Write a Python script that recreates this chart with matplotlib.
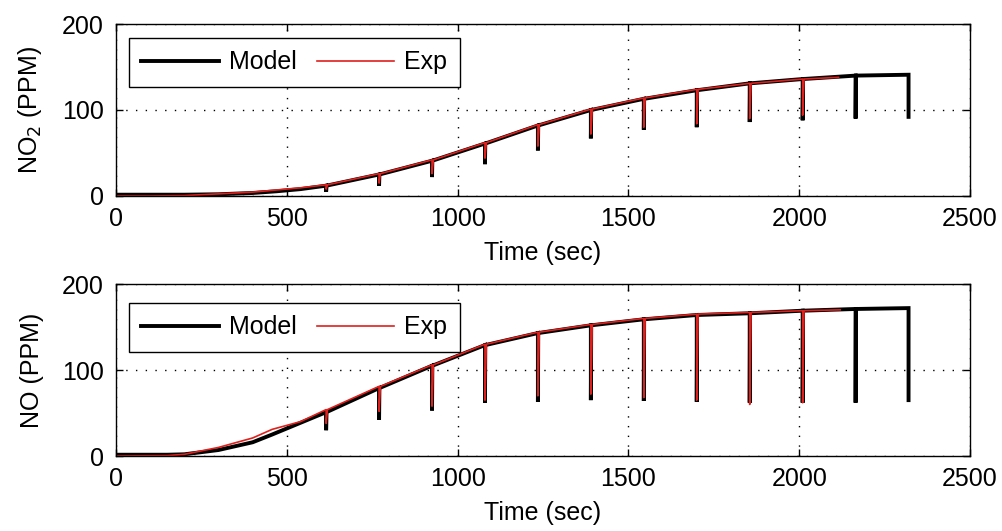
import numpy as np
import matplotlib
matplotlib.use('Agg')
import matplotlib.pyplot as plt

# dip (sampling) times, sec
t_dip = [615, 770, 925, 1080, 1235, 1390, 1545, 1700, 1855, 2010, 2165, 2320]

# NO2 model: smooth part before first dip, then value at each dip top / bottom
no2_mod_t0 = [0, 100, 200, 300, 400, 470, 540]
no2_mod_y0 = [1.5, 1.5, 1.5, 2, 3.5, 5.5, 8]
no2_mod_top = [12, 25, 41, 61, 82, 100, 113, 123, 131, 136, 140, 141]
no2_mod_bot = [5, 12, 22, 37, 53, 67, 77, 80, 86, 88, 90, 92]

no2_exp_t0 = [0, 100, 200, 300, 400, 470, 540]
no2_exp_y0 = [0, 0, 0.5, 2.5, 4.5, 7, 9.5]
no2_exp_top = [13, 26, 42, 62, 83, 101, 114, 124, 131, 136]
no2_exp_bot = [8, 15, 26, 44, 58, 72, 80, 84, 90, 94]
no2_exp_end = (2115, 138)

# NO model
no_mod_t0 = [0, 150, 200, 300, 400, 457]
no_mod_y0 = [1.5, 1.5, 2, 7, 16, 25]
no_mod_top = [51, 79, 105, 129, 143, 152, 159, 164, 166, 169, 171, 172]
no_mod_bot = [30, 42, 53, 62, 63, 65, 64, 63, 62, 62, 62, 65]

no_exp_t0 = [0, 150, 200, 300, 400, 457, 540]
no_exp_y0 = [0, 0.5, 2, 10, 21, 31, 40]
no_exp_top = [54, 81, 106, 130, 144, 153, 160, 165, 167, 169]
no_exp_bot = [38, 52, 58, 65, 70, 72, 68, 65, 60, 62]
no_exp_end = (2120, 170)


def build(t0, y0, tops, bots, end=None, w=1):
    t = list(t0)
    y = list(y0)
    for td, top, bot in zip(t_dip, tops, bots):
        t += [td, td, td + w]
        y += [top, bot, top]
    if end is None:
        # model ends with a final drop
        t = t[:-1]
        y = y[:-1]
    else:
        t.append(end[0])
        y.append(end[1])
    return t, y


plt.rcParams['font.family'] = ['Liberation Sans', 'DejaVu Sans']
fs = 18
fig = plt.figure(figsize=(10.02, 5.31), dpi=100)
ax1 = fig.add_axes([0.1158, 0.6309, 0.8523, 0.3239])
ax2 = fig.add_axes([0.1158, 0.1412, 0.8523, 0.3239])

panels = [
    (ax1, build(no2_mod_t0, no2_mod_y0, no2_mod_top, no2_mod_bot),
     build(no2_exp_t0, no2_exp_y0, no2_exp_top, no2_exp_bot, no2_exp_end, w=4),
     'NO$_2$ (PPM)', 0.92),
    (ax2, build(no_mod_t0, no_mod_y0, no_mod_top, no_mod_bot),
     build(no_exp_t0, no_exp_y0, no_exp_top, no_exp_bot, no_exp_end, w=4),
     'NO (PPM)', 0.89),
]

for ax, mod, exp, ylab, ytop in panels:
    ax.plot(mod[0], mod[1], color='black', lw=2.8, label='Model',
            solid_joinstyle='miter')
    ax.plot(exp[0], exp[1], color='#e0201c', lw=1.2, label='Exp')
    ax.set_xlim(0, 2500)
    ax.set_ylim(0, 200)
    ax.set_xticks([0, 500, 1000, 1500, 2000, 2500])
    ax.set_yticks([0, 100, 200])
    ax.grid(True, color='black', linestyle=(0, (1, 6)), lw=1.0)
    ax.tick_params(direction='in', length=5, top=True, right=True,
                   labelsize=fs, width=1)
    ax.tick_params(axis='x', pad=8)
    ax.tick_params(axis='y', pad=9)
    for s in ax.spines.values():
        s.set_linewidth(1.0)
    ax.set_xlabel('Time (sec)', fontsize=fs, labelpad=7)
    ax.set_ylabel(ylab, fontsize=fs, labelpad=13)
    leg = ax.legend(loc='upper left', bbox_to_anchor=(0.015, ytop), ncol=2,
                    fontsize=fs, frameon=True, fancybox=False, borderaxespad=0,
                    handlelength=3.1, handletextpad=0.4, columnspacing=0.8,
                    borderpad=0.5)
    leg.get_frame().set_edgecolor('black')
    leg.get_frame().set_linewidth(1.0)
    leg.get_frame().set_alpha(1)

fig.savefig('out.png', dpi=100)
